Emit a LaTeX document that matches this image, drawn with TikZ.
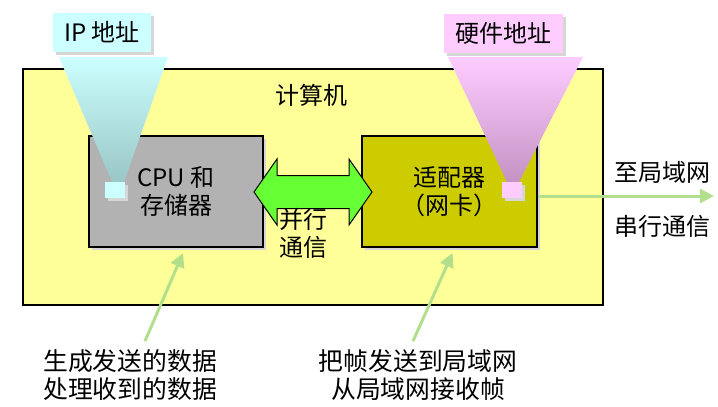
\documentclass[tikz,border=0pt]{standalone}
\usepackage{fontspec}
\setmainfont{Noto Sans CJK SC}
\usepackage{xcolor}
\usepackage{tikz}
\usetikzlibrary{positioning,arrows.meta,calc,shadows}
\definecolor{NWYellow}{HTML}{FFFF99}
\definecolor{NWGray}{HTML}{B2B2B2}
\definecolor{NWOlive}{HTML}{CCCC00}
\definecolor{NWGreen}{HTML}{66FF33}
\definecolor{NWLine}{HTML}{B3DF8C}
\definecolor{NWCyan}{HTML}{CCFFFF}
\definecolor{NWCyanDark}{HTML}{99C6C6}
\definecolor{NWPink}{HTML}{FFCCFF}
\definecolor{NWPinkDark}{HTML}{C493C4}
\definecolor{NWShadow}{HTML}{D6D6D6}
\tikzset{
  nwtext/.style={
    font=\fontsize{12}{14}\selectfont,
    align=center,
    inner sep=1pt
  },
  nwnote/.style={nwtext,font=\fontsize{12.4}{14}\selectfont},
  nwshadow/.style={drop shadow={shadow xshift=1.5pt,shadow yshift=-1.5pt,fill=NWShadow,opacity=1}},
  nwhost/.style={rectangle,draw=black,line width=0.75pt,fill=NWYellow,
    minimum width=290pt,minimum height=118pt,inner sep=0pt},
  nwbox/.style={rectangle,nwtext,draw=black,line width=1pt,nwshadow,
    minimum width=87pt,minimum height=55.5pt},
  nwtag/.style={rectangle,nwtext,nwshadow,minimum height=19.5pt},
  nwdot/.style={rectangle,nwshadow,minimum width=10pt,minimum height=8pt,inner sep=0pt},
  nwlink/.style={-{Triangle[length=7pt,width=7pt]},line width=1.5pt,draw=NWLine},
  nwbus/.style={draw=black,line width=0.5pt,fill=NWGreen},
}

\begin{document}
\begin{tikzpicture}[x=0.5pt,y=-0.5pt]
  \useasboundingbox (0,0) rectangle (718,407);

  \node[nwhost] (host) at (313,187) {};
  \node[nwtext] (hostname) at (311,95) {计算机};

  \node[nwbox,fill=NWGray] (cpu) at (176,191.5) {CPU 和\\存储器};
  \node[nwbox,fill=NWOlive,minimum width=87.5pt] (nic) at (449.5,191.5) {适配器\\（网卡）};

  % address cones
  \shade[top color=NWCyan,bottom color=NWCyanDark]
    (59,57) -- (168,57) -- (124,182) -- (112,182) -- cycle;
  \shade[top color=NWPink,bottom color=NWPinkDark]
    (448,57) -- (583,57) -- (519,182) -- (507,182) -- cycle;
  \node[nwdot,fill=NWCyan] (ipdot) at (115,190) {};
  \node[nwdot,fill=NWPink] (hwdot) at (512,189.5) {};

  \node[nwtag,fill=NWCyan,minimum width=49pt] (iptag) at (102,32.5) {IP 地址};
  \node[nwtag,fill=NWPink,minimum width=59.5pt] (hwtag) at (503.5,33.5) {硬件地址};

  % parallel bus between cpu and nic
  \coordinate (busl) at ($(cpu.east)+(-10,0.5)$);
  \coordinate (busr) at ($(nic.west)+(11,0.5)$);
  \draw[nwbus] (busl) -- ++(23,-33) -- ++(0,16.5) -- ($(busr)+(-23,-16.5)$)
    -- ++(0,-16.5) -- (busr) -- ++(-23,33) -- ++(0,-16.5)
    -- ($(busl)+(23,16.5)$) -- ++(0,16.5) -- cycle;
  \node[nwtext] (parallel) at (303,233) {并行\\通信};

  % serial link to the LAN
  \coordinate (lan) at (714,196);
  \draw[nwlink] (nic.east |- lan) -- (lan);
  \node[nwtext] (tolan) at (662,172) {至局域网};
  \node[nwtext] (serial) at (662,226) {串行通信};

  \node[nwnote] (hostjob) at (130,375) {生成发送的数据\\处理收到的数据};
  \node[nwnote] (nicjob) at (418,375) {把帧发送到局域网\\从局域网接收帧};
  \draw[nwlink] ($(hostjob.north)+(15,-6)$) -- ($(cpu.south)+(7,5)$);
  \draw[nwlink] ($(nicjob.north)+(-5,-6)$) -- ($(nic.south)+(3,5)$);
\end{tikzpicture}
\end{document}
